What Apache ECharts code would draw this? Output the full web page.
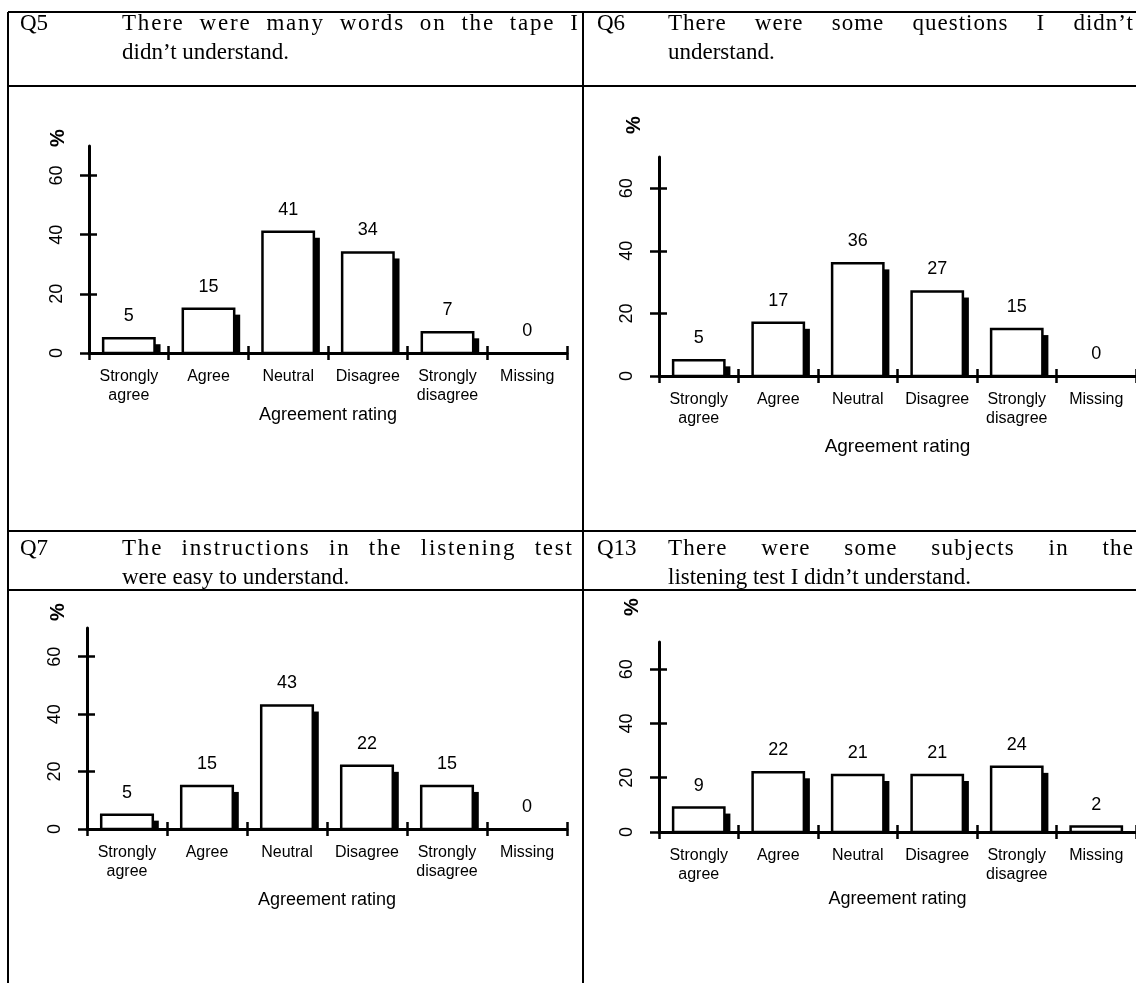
<!DOCTYPE html>
<html>
<head>
<meta charset="utf-8">
<script src="https://cdn.jsdelivr.net/npm/echarts@6/dist/echarts.min.js"></script>
<style>
  html, body { margin: 0; padding: 0; background: #fff; }
  #wrap { position: relative; width: 1136px; height: 983px; overflow: hidden; }
  #chart { position: absolute; left: 0; top: 0; width: 1136px; height: 983px; }
  .t { position: absolute; font-family: "Liberation Serif", "Times New Roman", serif; font-size: 23px; line-height: 29px; color: #000; white-space: normal; z-index: 2; }
  .j { text-align: justify; text-align-last: justify; }
</style>
</head>
<body>
<div id="wrap">
  <div id="chart"></div>
</div>
<script>
// ---------------- data ----------------
const categories = ['Strongly\nagree', 'Agree', 'Neutral', 'Disagree', 'Strongly\ndisagree', 'Missing'];
const yTicks = [0, 20, 40, 60];
const yMax = 70;
const xAxisTitle = 'Agreement rating';
const yAxisTitle = '%';

const q5Values  = [5, 15, 41, 34, 7, 0];
const q6Values  = [5, 17, 36, 27, 15, 0];
const q7Values  = [5, 15, 43, 22, 15, 0];
const q13Values = [9, 22, 21, 21, 24, 2];

const questionIds = ['Q5', 'Q6', 'Q7', 'Q13'];
const questionLine1 = [
  'There were many words on the tape I',
  'There were some questions I didn\u2019t',
  'The instructions in the listening test',
  'There were some subjects in the'
];
const questionLine2 = [
  'didn\u2019t understand.',
  'understand.',
  'were easy to understand.',
  'listening test I didn\u2019t understand.'
];
const panelValues = [q5Values, q6Values, q7Values, q13Values];

// ---------------- layout (positions only) ----------------
const FONT = '"Liberation Sans", Arial, Helvetica, sans-serif';
const panels = [
  { grid: { left: 89,  top: 146, width: 478, height: 207 }, nameGap: 53, nameSize: 18, pct: [58, 138],  head: { qx: 20,  tx: 122, tw: 456, top: 8,   ls: 1.8 } },
  { grid: { left: 659, top: 157, width: 480, height: 219 }, nameGap: 61, nameSize: 19, pct: [634, 125], head: { qx: 597, tx: 668, tw: 465, top: 8,   ls: 1.0 } },
  { grid: { left: 87,  top: 628, width: 480, height: 201 }, nameGap: 62, nameSize: 18, pct: [58, 612],  head: { qx: 20,  tx: 122, tw: 450, top: 533, ls: 1.8 } },
  { grid: { left: 659, top: 642, width: 478, height: 190 }, nameGap: 58, nameSize: 18, pct: [632, 607], head: { qx: 597, tx: 668, tw: 465, top: 533, ls: 1.2 } }
];

// headers (real text)
const wrap = document.getElementById('wrap');
panels.forEach((p, k) => {
  const h = p.head;
  const q = document.createElement('div');
  q.className = 't'; q.style.left = h.qx + 'px'; q.style.top = h.top + 'px';
  q.textContent = questionIds[k];
  wrap.appendChild(q);
  const l1 = document.createElement('div');
  l1.className = 't j'; l1.style.left = h.tx + 'px'; l1.style.top = h.top + 'px'; l1.style.width = (h.tw + h.ls) + 'px';
  l1.style.letterSpacing = h.ls + 'px';
  l1.textContent = questionLine1[k];
  wrap.appendChild(l1);
  const l2 = document.createElement('div');
  l2.className = 't'; l2.style.left = h.tx + 'px'; l2.style.top = (h.top + 29) + 'px';
  l2.textContent = questionLine2[k];
  wrap.appendChild(l2);
});

const BAR_RATIO = 0.645;
const SHADOW_W = 6;
const SHADOW_DROP = 6;

function renderBar(params, api) {
  const i = api.value(0);
  const v = api.value(1);
  const top = api.coord([i, v]);
  const base = api.coord([i, 0]);
  const bw = api.size([1, 0])[0] * BAR_RATIO;
  const x0 = top[0] - bw / 2;
  const h = base[1] - top[1];
  const children = [];
  if (h > 0) {
    const sh = h - SHADOW_DROP;
    if (sh > 0) {
      children.push({ type: 'rect', shape: { x: x0 + bw, y: top[1] + SHADOW_DROP, width: SHADOW_W, height: sh }, style: { fill: '#000' } });
    }
    children.push({ type: 'rect', shape: { x: x0, y: top[1], width: bw, height: h }, style: { fill: '#fff', stroke: '#000', lineWidth: 2.5 } });
  }
  children.push({ type: 'text', x: top[0], y: top[1] - 22, style: { text: String(v), fill: '#000', font: '18px ' + FONT, align: 'center', verticalAlign: 'middle' } });
  return { type: 'group', children: children };
}

const grids = [], xAxes = [], yAxes = [], series = [], graphics = [];
panels.forEach((p, k) => {
  grids.push(Object.assign({ containLabel: false }, p.grid));
  const xi = xAxes.length, yi = yAxes.length;
  xAxes.push({
    gridIndex: k, type: 'category', data: categories, boundaryGap: true, position: 'bottom',
    axisLine: { show: true, lineStyle: { color: '#000', width: 3 } },
    axisTick: { show: true, inside: false, length: 7, lineStyle: { color: '#000', width: 2.5 } },
    axisLabel: { show: true, interval: 0, color: '#000', fontSize: 16, fontFamily: FONT, lineHeight: 19, margin: 14 },
    name: xAxisTitle, nameLocation: 'middle', nameGap: p.nameGap,
    nameTextStyle: { color: '#000', fontSize: p.nameSize, fontFamily: FONT },
    splitLine: { show: false }
  });
  xAxes.push({
    gridIndex: k, type: 'category', data: categories, boundaryGap: true, position: 'bottom',
    axisLine: { show: false },
    axisTick: { show: true, inside: true, length: 7, lineStyle: { color: '#000', width: 2.5 } },
    axisLabel: { show: false }, splitLine: { show: false }
  });
  yAxes.push({
    gridIndex: k, type: 'value', min: 0, max: yMax, interval: 20, position: 'left',
    axisLine: { show: true, lineStyle: { color: '#000', width: 3 } },
    axisTick: { show: true, inside: false, length: 9, customValues: yTicks, lineStyle: { color: '#000', width: 2.5 } },
    axisLabel: { show: true, rotate: 90, customValues: yTicks, color: '#000', fontSize: 18, fontFamily: FONT, margin: 23 },
    splitLine: { show: false }
  });
  yAxes.push({
    gridIndex: k, type: 'value', min: 0, max: yMax, interval: 20, position: 'left',
    axisLine: { show: false },
    axisTick: { show: true, inside: true, length: 8, customValues: yTicks, lineStyle: { color: '#000', width: 2.5 } },
    axisLabel: { show: false }, splitLine: { show: false }
  });
  series.push({
    type: 'custom', xAxisIndex: xi, yAxisIndex: yi,
    renderItem: renderBar,
    encode: { x: 0, y: 1 },
    data: panelValues[k].map((v, i) => [i, v]),
    z: 5
  });
  graphics.push({
    type: 'text', x: p.pct[0], y: p.pct[1], rotation: Math.PI / 2,
    style: { text: yAxisTitle, fill: '#000', font: 'bold 20px ' + FONT, align: 'center', verticalAlign: 'middle' }
  });
});

// table rules
const ruleStyle = { stroke: '#000', lineWidth: 2 };
[[8, 12, 1136, 12], [8, 86, 1136, 86], [8, 531, 1136, 531], [8, 590, 1136, 590], [8, 12, 8, 983], [583, 12, 583, 983]]
  .forEach(s => graphics.push({ type: 'line', shape: { x1: s[0], y1: s[1], x2: s[2], y2: s[3] }, style: ruleStyle, z: 10 }));

const chart = echarts.init(document.getElementById('chart'), null, { renderer: 'canvas' });
chart.setOption({
  backgroundColor: '#fff',
  animation: false,
  grid: grids,
  xAxis: xAxes,
  yAxis: yAxes,
  series: series,
  graphic: graphics
});
</script>
</body>
</html>
